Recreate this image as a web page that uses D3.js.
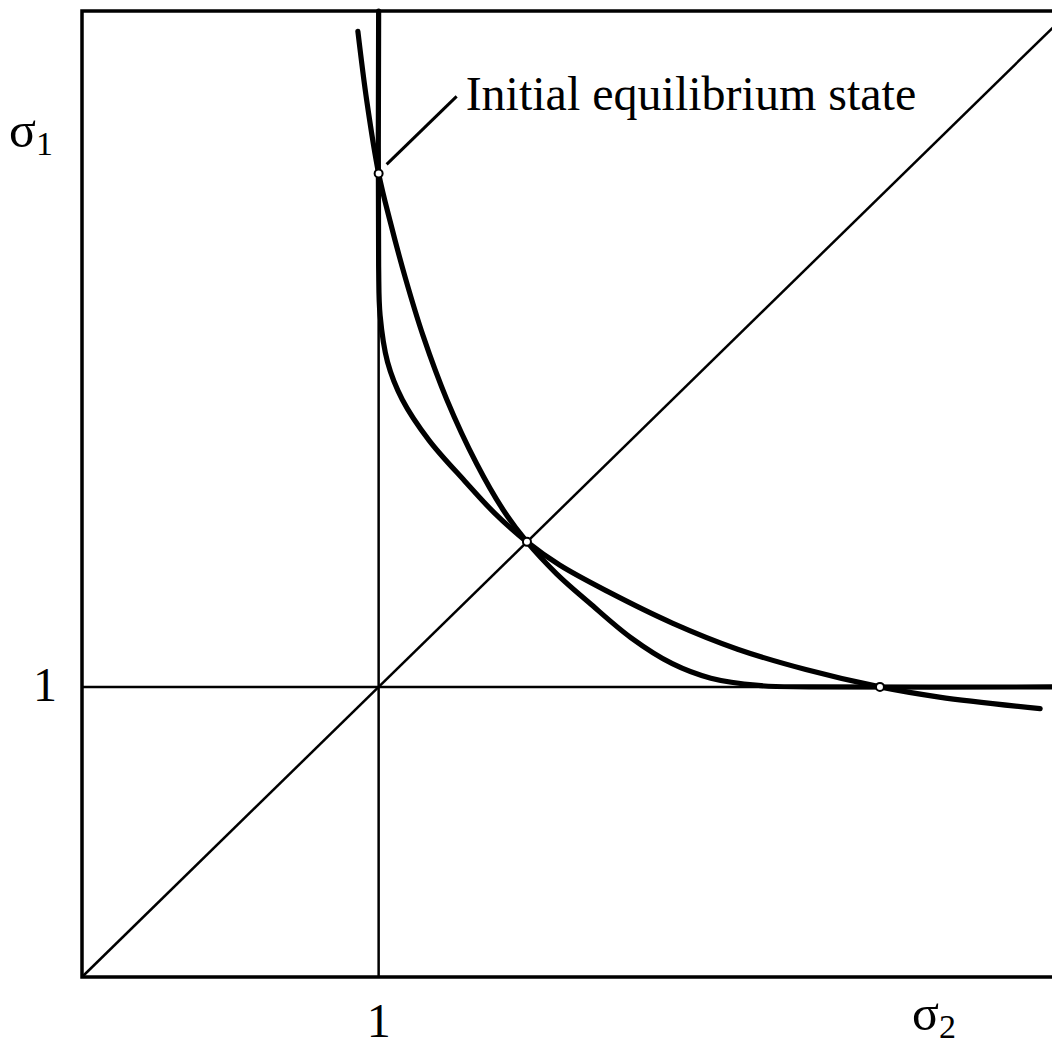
<!DOCTYPE html>
<html>
<head>
<meta charset="utf-8">
<script src="https://cdn.jsdelivr.net/npm/d3@7"></script>
<style>
  html, body { margin: 0; padding: 0; background: #fff; }
  svg { display: block; }
  text { font-family: "Liberation Serif", "Times New Roman", serif; fill: #000; }
</style>
</head>
<body>
<svg id="chart" width="1052" height="1050"></svg>
<script>
// Stress states in the (sigma2, sigma1) plane
const ticks = [1];
const tickLabels = ["1"];

// Path 1: from above the initial state, down through the symmetric state,
// levelling onto sigma1 = 1
const path1 = [
  [0.93, 3.26], [0.96, 3.02], [1.00, 2.77], [1.04, 2.60], [1.09, 2.41],
  [1.15, 2.21], [1.23, 1.99], [1.33, 1.77], [1.42, 1.61], [1.50, 1.50],
  [1.60, 1.39], [1.71, 1.29], [1.85, 1.17], [1.99, 1.08], [2.12, 1.03],
  [2.28, 1.005], [2.45, 1.00], [3.30, 1.00]
];

// Path 2: down sigma2 = 1, bending through the symmetric state and
// crossing sigma1 = 1 at the final state
const path2 = [
  [1.00, 3.33], [1.00, 2.45], [1.005, 2.28], [1.03, 2.12], [1.08, 1.99],
  [1.17, 1.85], [1.29, 1.71], [1.39, 1.60], [1.50, 1.50], [1.61, 1.42],
  [1.77, 1.33], [1.99, 1.22], [2.21, 1.13], [2.44, 1.06], [2.69, 1.00],
  [2.89, 0.965], [3.23, 0.925]
];

// Marked states: initial equilibrium, symmetric state, final state
const states = [[1.00, 2.77], [1.50, 1.50], [2.69, 1.00]];
const annotation = "Initial equilibrium state";

const svg = d3.select("#chart");
const x = d3.scaleLinear().domain([0, 3.27]).range([82, 1052]);
const y = d3.scaleLinear().domain([0, 3.33]).range([977, 11]);

const thin = 2.5, thick = 5.2;

// Frame: left, top, bottom (open to the right)
svg.append("path")
  .attr("d", `M${x(3.4)},${y(3.33)} H${x(0)} V${y(0)} H${x(3.4)}`)
  .attr("fill", "none").attr("stroke", "#000").attr("stroke-width", 3.5);

// Reference lines sigma2 = 1 and sigma1 = 1
svg.append("line")
  .attr("x1", x(1)).attr("x2", x(1)).attr("y1", y(3.33)).attr("y2", y(0))
  .attr("stroke", "#000").attr("stroke-width", thin);
svg.append("line")
  .attr("x1", x(0)).attr("x2", x(3.4)).attr("y1", y(1)).attr("y2", y(1))
  .attr("stroke", "#000").attr("stroke-width", thin);

// Diagonal sigma1 = sigma2
svg.append("line")
  .attr("x1", x(0)).attr("y1", y(0)).attr("x2", x(3.3)).attr("y2", y(3.3))
  .attr("stroke", "#000").attr("stroke-width", thin);

const line = d3.line().x(d => x(d[0])).y(d => y(d[1])).curve(d3.curveCatmullRom.alpha(0.5));

[path2, path1].forEach(p => {
  svg.append("path").datum(p).attr("d", line)
    .attr("fill", "none").attr("stroke", "#000").attr("stroke-width", thick)
    .attr("stroke-linecap", "round").attr("stroke-linejoin", "round");
});

// Leader line to the annotation
const p0 = states[0];
svg.append("line")
  .attr("x1", x(p0[0]) + 8).attr("y1", y(p0[1]) - 9)
  .attr("x2", x(p0[0]) + 78).attr("y2", y(p0[1]) - 77)
  .attr("stroke", "#000").attr("stroke-width", 3);
svg.append("text")
  .attr("x", x(p0[0]) + 87).attr("y", y(p0[1]) - 63)
  .attr("font-size", 48)
  .text(annotation);

// State markers
svg.selectAll("circle.state").data(states).join("circle")
  .attr("class", "state")
  .attr("cx", d => x(d[0])).attr("cy", d => y(d[1])).attr("r", 4)
  .attr("fill", "#fff").attr("stroke", "#000").attr("stroke-width", 2);

// Tick labels
svg.selectAll("text.xt").data(ticks).join("text")
  .attr("class", "xt")
  .attr("x", d => x(d)).attr("y", 1037)
  .attr("text-anchor", "middle").attr("font-size", 48)
  .text((d, i) => tickLabels[i]);
svg.selectAll("text.yt").data(ticks).join("text")
  .attr("class", "yt")
  .attr("x", 45).attr("y", d => y(d) + 14)
  .attr("text-anchor", "middle").attr("font-size", 48)
  .text((d, i) => tickLabels[i]);

// Axis titles
const yTitle = svg.append("text").attr("x", 9).attr("y", 147).attr("font-size", 50);
yTitle.append("tspan").text("σ");
yTitle.append("tspan").attr("dy", 8).attr("font-size", 34).text("1");

const xTitle = svg.append("text").attr("x", 912).attr("y", 1030).attr("font-size", 50);
xTitle.append("tspan").text("σ");
xTitle.append("tspan").attr("dy", 8).attr("font-size", 34).text("2");
</script>
</body>
</html>
